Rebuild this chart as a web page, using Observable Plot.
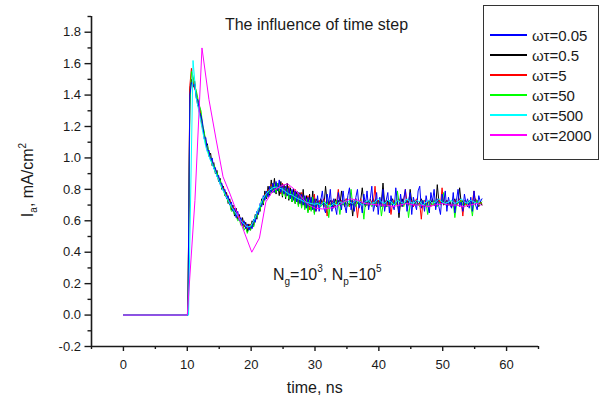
<!DOCTYPE html>
<html><head><meta charset="utf-8">
<script src="https://cdn.jsdelivr.net/npm/d3@7"></script>
<script src="https://cdn.jsdelivr.net/npm/@observablehq/plot@0.6"></script>
<style>
body{margin:0;background:#fff;}
#wrap{position:relative;width:604px;height:401px;font-family:"Liberation Sans",Arial,sans-serif;color:#1a1a1a;}
#legend{position:absolute;left:483px;top:5px;width:116px;height:155px;border:1px solid #333;background:#fff;box-sizing:border-box;}
.row{position:absolute;left:6px;height:20px;display:flex;align-items:center;font-size:15px;white-space:nowrap;}
.sw{display:inline-block;width:37px;height:1.2px;margin-right:5px;}
</style></head><body><div id="wrap"></div>
<script>
// ---- legend / series ----
const seriesNames = ["ωτ=0.05", "ωτ=0.5", "ωτ=5", "ωτ=50", "ωτ=500", "ωτ=2000"];
const seriesColors = ["#0000ff", "#000000", "#ff0000", "#00ff00", "#00ffff", "#ff00ff"];

// flat part before the pulse (shared by the noisy series)
const leadTimes = [0, 10.1];
const leadValues = [0, 0];
const noisyStart = 10.4, noisyStep = 0.25;

const blueValues = [
1.40,1.48,1.46,1.47, 1.38,1.37,1.29,1.27, 1.22,1.12,1.13,1.04, 1.05,0.98,1.00,0.93,
0.94,0.88,0.89,0.83, 0.84,0.79,0.80,0.74, 0.76,0.70,0.72,0.66, 0.68,0.62,0.66,0.60,
0.62,0.57,0.60,0.55, 0.58,0.54,0.57,0.55, 0.61,0.59,0.66,0.64, 0.71,0.69,0.76,0.73,
0.79,0.75,0.82,0.78, 0.84,0.78,0.85,0.79, 0.86,0.78,0.83,0.77, 0.82,0.76,0.81,0.74,
0.80,0.73,0.79,0.72, 0.78,0.71,0.77,0.70, 0.76,0.68,0.75,0.69, 0.75,0.67,0.74,0.66,
0.76,0.66,0.73,0.79, 0.68,0.65,0.77,0.71, 0.80,0.66,0.74,0.69, 0.64,0.78,0.72,0.67,
0.79,0.70,0.65,0.76, 0.81,0.67,0.73,0.66, 0.75,0.80,0.68,0.72, 0.65,0.77,0.70,0.79,
0.67,0.74,0.82,0.66, 0.71,0.78,0.64,0.75, 0.69,0.80,0.66,0.73, 0.78,0.65,0.76,0.70,
0.67,0.81,0.72,0.65, 0.77,0.69,0.74,0.80, 0.66,0.72,0.78,0.64, 0.75,0.71,0.67,0.79,
0.82,0.68,0.73,0.66, 0.76,0.70,0.65,0.78, 0.72,0.80,0.67,0.74, 0.69,0.64,0.77,0.71,
0.79,0.66,0.75,0.70, 0.68,0.78,0.65,0.73, 0.80,0.69,0.72,0.66, 0.77,0.71,0.74,0.68,
0.75,0.66,0.79,0.70, 0.67,0.76,0.72,0.74];

const blackValues = [
1.44,1.50,1.45,1.49, 1.40,1.33,1.34,1.24, 1.19,1.16,1.08,1.09, 1.01,1.03,0.95,0.97,
0.90,0.92,0.85,0.87, 0.80,0.82,0.76,0.78, 0.71,0.74,0.67,0.70, 0.63,0.68,0.61,0.64,
0.58,0.62,0.56,0.59, 0.53,0.58,0.54,0.60, 0.57,0.64,0.61,0.68, 0.66,0.74,0.70,0.79,
0.74,0.82,0.76,0.86, 0.78,0.87,0.77,0.84, 0.76,0.85,0.75,0.83, 0.74,0.84,0.73,0.81,
0.72,0.80,0.71,0.79, 0.70,0.78,0.69,0.80, 0.68,0.76,0.66,0.77, 0.67,0.79,0.65,0.74,
0.72,0.70,0.74,0.71, 0.69,0.82,0.72,0.70, 0.73,0.71,0.68,0.74, 0.71,0.73,0.70,0.79,
0.72,0.69,0.74,0.71, 0.70,0.73,0.63,0.72, 0.74,0.71,0.70,0.73, 0.81,0.72,0.69,0.71,
0.73,0.70,0.72,0.74, 0.71,0.69,0.73,0.70, 0.72,0.84,0.71,0.69, 0.73,0.70,0.72,0.74,
0.70,0.71,0.73,0.62, 0.72,0.74,0.70,0.71, 0.73,0.70,0.80,0.72, 0.69,0.71,0.73,0.70,
0.72,0.74,0.71,0.69, 0.70,0.72,0.73,0.71, 0.74,0.70,0.69,0.83, 0.72,0.71,0.73,0.70,
0.71,0.73,0.70,0.72, 0.69,0.71,0.74,0.70, 0.72,0.81,0.71,0.73, 0.70,0.72,0.69,0.71,
0.73,0.70,0.72,0.74, 0.71,0.69,0.72,0.70];

const redValues = [
1.46,1.57,1.49,1.44, 1.42,1.35,1.32,1.28, 1.18,1.15,1.11,1.05, 1.04,0.99,0.98,0.94,
0.93,0.89,0.88,0.84, 0.83,0.81,0.77,0.77, 0.73,0.73,0.68,0.69, 0.66,0.64,0.62,0.63,
0.59,0.60,0.56,0.58, 0.55,0.56,0.58,0.56, 0.60,0.62,0.63,0.67, 0.69,0.72,0.72,0.77,
0.77,0.80,0.79,0.83, 0.80,0.79,0.84,0.80, 0.82,0.77,0.84,0.78, 0.80,0.76,0.82,0.75,
0.79,0.74,0.80,0.72, 0.77,0.71,0.78,0.70, 0.75,0.69,0.76,0.67, 0.74,0.68,0.77,0.66,
0.71,0.73,0.70,0.72, 0.74,0.71,0.63,0.72, 0.70,0.73,0.71,0.69, 0.72,0.80,0.71,0.73,
0.70,0.72,0.74,0.71, 0.69,0.71,0.73,0.70, 0.72,0.62,0.71,0.74, 0.70,0.72,0.73,0.71,
0.69,0.74,0.71,0.72, 0.82,0.70,0.73,0.71, 0.72,0.69,0.71,0.73, 0.70,0.72,0.64,0.71,
0.73,0.70,0.72,0.74, 0.71,0.69,0.73,0.80, 0.72,0.70,0.71,0.73, 0.69,0.72,0.74,0.70,
0.71,0.61,0.72,0.73, 0.70,0.72,0.71,0.69, 0.73,0.71,0.70,0.72, 0.74,0.70,0.81,0.71,
0.72,0.73,0.70,0.71, 0.69,0.72,0.73,0.70, 0.71,0.74,0.72,0.63, 0.73,0.70,0.71,0.72,
0.70,0.72,0.79,0.71, 0.73,0.70,0.72,0.71];

const greenValues = [
1.30,1.55,1.52,1.46, 1.43,1.38,1.33,1.30, 1.21,1.17,1.09,1.08, 1.02,1.01,0.96,0.96,
0.91,0.91,0.86,0.86, 0.81,0.80,0.76,0.75, 0.72,0.71,0.66,0.67, 0.64,0.63,0.60,0.61,
0.57,0.58,0.54,0.56, 0.52,0.55,0.54,0.58, 0.56,0.63,0.62,0.65, 0.67,0.72,0.71,0.76,
0.75,0.79,0.77,0.82, 0.79,0.83,0.78,0.84, 0.79,0.82,0.76,0.81, 0.75,0.80,0.74,0.79,
0.72,0.78,0.71,0.77, 0.69,0.76,0.68,0.75, 0.67,0.74,0.65,0.73, 0.66,0.75,0.64,0.72,
0.70,0.72,0.69,0.71, 0.73,0.70,0.72,0.62, 0.71,0.69,0.72,0.70, 0.73,0.71,0.64,0.72,
0.70,0.73,0.71,0.69, 0.72,0.80,0.70,0.71, 0.69,0.72,0.70,0.73, 0.71,0.61,0.72,0.70,
0.73,0.71,0.69,0.72, 0.70,0.72,0.71,0.73, 0.63,0.70,0.72,0.71, 0.69,0.73,0.70,0.72,
0.71,0.70,0.79,0.72, 0.70,0.71,0.69,0.73, 0.72,0.62,0.71,0.70, 0.73,0.72,0.70,0.71,
0.69,0.72,0.73,0.70, 0.71,0.64,0.72,0.71, 0.70,0.73,0.71,0.69, 0.72,0.70,0.72,0.78,
0.71,0.69,0.70,0.72, 0.73,0.71,0.62,0.70, 0.72,0.71,0.73,0.70, 0.69,0.72,0.71,0.73,
0.70,0.63,0.72,0.71, 0.73,0.70,0.71,0.72];

// ωτ=500: coarser step
const cyanLeadTimes = [0, 10.2];
const cyanLeadValues = [0, 0];
const cyanStart = 10.9, cyanStep = 0.5;
const cyanValues = [
1.62,1.38,1.28,1.17,1.07,1.01,0.96,0.91,0.86,0.81,0.77,0.73,0.69,0.66,0.63,0.60,0.58,0.56,0.565,
0.60,0.65,0.70,0.745,0.775,0.795,0.81,0.815,0.81,0.80,0.785,0.77,0.765,0.75,0.74,0.73,0.72,0.715,0.71,0.705,
0.71,0.70,0.72,0.70,0.69,0.71,0.70,0.72,0.71,0.73,
0.72,0.71,0.73,0.72,0.70,0.72,0.73,0.71,0.72,0.74,
0.72,0.71,0.73,0.72,0.70,0.73,0.72,0.71,0.74,0.72,
0.71,0.73,0.72,0.70,0.72,0.73,0.71,0.72,0.74,0.72,
0.71,0.72,0.73,0.71,0.72,0.74,0.72,0.71,0.73,0.72,
0.71,0.73];

// ωτ=2000: coarsest step
const magentaTimes = [0,10.0,11.2,12.3,13.4,14.5,15.6,16.7,17.8,18.9,20.1,21.3,22.3,23.4,24.6,25.7,26.8,27.9,29.0,
30.1,31.2,32.3,33.4,34.5,35.6,36.7,37.8,38.9,40.0,41.1,42.2,43.3,44.4,45.5,46.6,47.7,48.8,49.9,51.0,52.1,53.2,54.3,55.4,56.0];
const magentaValues = [0,0,0.73,1.70,1.37,1.12,0.88,0.77,0.65,0.53,0.40,0.49,0.72,0.79,0.82,0.835,0.80,0.75,0.70,
0.68,0.675,0.68,0.69,0.72,0.74,0.73,0.71,0.705,0.70,0.70,0.69,0.70,0.71,0.70,0.70,0.69,0.70,0.71,0.70,0.70,0.69,0.70,0.71,0.70];

// ---- axes ----
const xDomain = [-5, 65];
const yDomain = [-0.2, 1.9];
const xMajorTicks = [0, 10, 20, 30, 40, 50, 60];
const xMinorTicks = [-5, 5, 15, 25, 35, 45, 55, 65];
const yMajorTicks = [-0.2, 0, 0.2, 0.4, 0.6, 0.8, 1.0, 1.2, 1.4, 1.6, 1.8];
const yMinorTicks = [-0.1, 0.1, 0.3, 0.5, 0.7, 0.9, 1.1, 1.3, 1.5, 1.7, 1.9];

const titleText = "The influence of time step";
const xLabelText = "time, ns";

// ---- build rows ----
function rows(times, values) { return times.map((t, i) => ({t, v: values[i]})); }
function gridRows(lt, lv, start, step, values) {
  return rows(lt.concat(values.map((_, i) => start + i * step)), lv.concat(values));
}
const data = {
  "ωτ=0.05": gridRows(leadTimes, leadValues, noisyStart, noisyStep, blueValues),
  "ωτ=0.5": gridRows(leadTimes, leadValues, noisyStart, noisyStep, blackValues),
  "ωτ=5": gridRows(leadTimes, leadValues, noisyStart, noisyStep, redValues),
  "ωτ=50": gridRows(leadTimes, leadValues, noisyStart, noisyStep, greenValues),
  "ωτ=500": gridRows(cyanLeadTimes, cyanLeadValues, cyanStart, cyanStep, cyanValues),
  "ωτ=2000": rows(magentaTimes, magentaValues)
};
const drawOrder = ["ωτ=0.5", "ωτ=5", "ωτ=50", "ωτ=0.05", "ωτ=500", "ωτ=2000"];
const colorOf = Object.fromEntries(seriesNames.map((n, i) => [n, seriesColors[i]]));

const axisColor = "#1a1a1a";
const plot = Plot.plot({
  width: 604, height: 401,
  marginLeft: 91, marginRight: 66, marginTop: 16, marginBottom: 55,
  x: {domain: xDomain},
  y: {domain: yDomain},
  style: {fontFamily: "'Liberation Sans', Arial, sans-serif", fontSize: "13px", color: axisColor, background: "#fff"},
  marks: [
    ...drawOrder.map(n => Plot.line(data[n], {x: "t", y: "v", stroke: colorOf[n], strokeWidth: 1})),
    Plot.ruleX([xDomain[0]], {stroke: axisColor, strokeWidth: 1.6}),
    Plot.ruleY([yDomain[0]], {stroke: axisColor, strokeWidth: 1.6}),
    Plot.axisY({ticks: yMajorTicks, tickSize: 6.5, tickPadding: 4, tickFormat: d => d.toFixed(1), label: null, strokeWidth: 1.4, stroke: axisColor, fill: axisColor}),
    Plot.axisY({ticks: yMinorTicks, tickSize: 3.5, tickFormat: () => "", label: null, strokeWidth: 1.4, stroke: axisColor}),
    Plot.axisX({ticks: xMajorTicks, tickSize: 5, tickPadding: 8, tickFormat: d => String(d), label: null, strokeWidth: 1.4, stroke: axisColor, fill: axisColor}),
    Plot.axisX({ticks: xMinorTicks, tickSize: 3, tickFormat: () => "", label: null, strokeWidth: 1.4, stroke: axisColor})
  ]
});

const wrap = document.getElementById("wrap");
wrap.appendChild(plot);
const svg = d3.select(plot);
const font = "'Liberation Sans', Arial, sans-serif";

// title
svg.append("text").attr("x", 316.5).attr("y", 30).attr("text-anchor", "middle")
  .attr("font-family", font).attr("font-size", 16).attr("fill", axisColor).text(titleText);
// x label
svg.append("text").attr("x", 314.7).attr("y", 393).attr("text-anchor", "middle")
  .attr("font-family", font).attr("font-size", 16).attr("fill", axisColor).text(xLabelText);
// y label: I_a, mA/cm^2
const yl = svg.append("text").attr("transform", "translate(33,180) rotate(-90)").attr("text-anchor", "middle")
  .attr("font-family", font).attr("font-size", 16).attr("fill", axisColor);
yl.append("tspan").text("I");
yl.append("tspan").attr("font-size", 10).attr("dy", 4).text("a");
yl.append("tspan").attr("dy", -4).text(", mA/cm");
yl.append("tspan").attr("font-size", 10).attr("dy", -7).text("2");

// annotation N_g=10^3, N_p=10^5
const xs = plot.scale("x"), ys = plot.scale("y");
const an = svg.append("text").attr("x", xs.apply(32.0)).attr("y", ys.apply(0.217))
  .attr("font-family", font).attr("font-size", 16).attr("fill", axisColor);
an.append("tspan").text("N");
an.append("tspan").attr("font-size", 10).attr("dy", 5).text("g");
an.append("tspan").attr("dy", -5).text("=10");
an.append("tspan").attr("font-size", 10).attr("dy", -8).text("3");
an.append("tspan").attr("dy", 8).text(", N");
an.append("tspan").attr("font-size", 10).attr("dy", 5).text("p");
an.append("tspan").attr("dy", -5).text("=10");
an.append("tspan").attr("font-size", 10).attr("dy", -8).text("5");

// legend
const lg = document.createElement("div");
lg.id = "legend";
seriesNames.forEach((n, i) => {
  const r = document.createElement("div");
  r.className = "row";
  r.style.top = (19 + 20 * i) + "px";
  const s = document.createElement("span");
  s.className = "sw";
  s.style.background = seriesColors[i];
  r.appendChild(s);
  r.appendChild(document.createTextNode(n));
  lg.appendChild(r);
});
wrap.appendChild(lg);
</script>
</body></html>
